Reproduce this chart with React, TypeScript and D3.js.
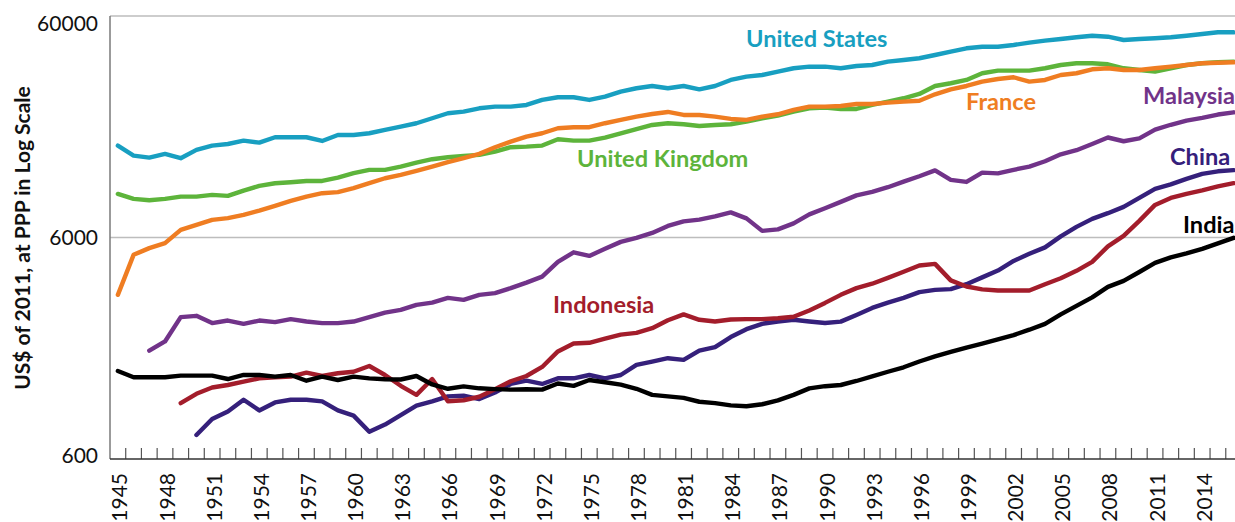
import React from "react";
import * as d3 from "d3";

// GDP per capita, US$ of 2011 at PPP, 1945-2016 (null = no data)
const years = d3.range(1945, 2017);

const unitedStates = [
  15600, 14060, 13760, 14310, 13680, 14920, 15600, 15860, 16420, 16080,
  17010, 17010, 17010, 16370, 17420, 17420, 17730, 18350, 18990, 19680,
  20730, 21830, 22200, 22990, 23380, 23380, 23800, 25070, 25780, 25780,
  25070, 25940, 27330, 28310, 28990, 28310, 28990, 28010, 28990, 30860,
  31940, 32500, 33640, 34850, 35430, 35430, 34850, 35690, 36060, 37330,
  37990, 38670, 40010, 41410, 42890, 43610, 43610, 44390, 45460, 46420,
  47240, 48090, 48890, 48390, 46760, 47240, 47590, 48090, 48890, 49760,
  50660, 50660,
];

const unitedKingdom = [
  9441, 8962, 8842, 8962, 9179, 9179, 9344, 9246, 9771, 10260,
  10550, 10660, 10800, 10800, 11180, 11710, 12120, 12120, 12540, 13070,
  13540, 13820, 14010, 14160, 14660, 15340, 15440, 15600, 16660, 16420,
  16420, 16940, 17730, 18490, 19330, 19680, 19480, 19130, 19330, 19480,
  20010, 20730, 21290, 22200, 22990, 23140, 22830, 22830, 23800, 24630,
  25510, 26680, 28990, 29820, 30860, 33090, 33990, 33990, 33990, 34850,
  36060, 36710, 36710, 36330, 34850, 34240, 33640, 34850, 36060, 36710,
  37090, 37330,
];

const france = [
  3306, 5011, 5372, 5657, 6493, 6841, 7206, 7335, 7590, 7936,
  8334, 8778, 9179, 9511, 9611, 10020, 10550, 11110, 11500, 12000,
  12540, 13120, 13680, 14310, 15340, 16250, 17120, 17730, 18680, 18880,
  18880, 19680, 20370, 21080, 21670, 22130, 21450, 21450, 21080, 20580,
  20370, 21080, 21600, 22590, 23380, 23380, 23550, 24040, 24040, 24370,
  24630, 24880, 26590, 28010, 28990, 30320, 31180, 31740, 30320, 30860,
  32500, 33090, 34490, 34850, 34240, 34240, 34850, 35430, 36060, 36710,
  36930, 37090,
];

const malaysia = [
  null, null, 1851, 2036, 2622, 2658, 2464, 2531, 2446, 2531,
  2490, 2568, 2505, 2464, 2464, 2505, 2622, 2748, 2826, 2978,
  3050, 3203, 3137, 3306, 3365, 3544, 3755, 3997, 4657, 5143,
  4956, 5333, 5733, 5976, 6293, 6768, 7094, 7228, 7474, 7790,
  7320, 6426, 6526, 6949, 7630, 8137, 8688, 9296, 9640, 10120,
  10730, 11340, 12050, 10920, 10690, 11780, 11680, 12130, 12540, 13260,
  14240, 14870, 15860, 16970, 16320, 16800, 18410, 19370, 20220, 20790,
  21540, 22040,
];

const china = [
  null, null, null, null, null, 770, 910, 984, 1111, 994,
  1080, 1111, 1111, 1092, 994, 942, 797, 858, 946, 1044,
  1092, 1150, 1158, 1119, 1198, 1309, 1354, 1309, 1388, 1388,
  1437, 1388, 1437, 1596, 1651, 1711, 1681, 1851, 1918, 2131,
  2313, 2446, 2505, 2550, 2505, 2467, 2503, 2683, 2885, 3047,
  3203, 3400, 3482, 3508, 3693, 3964, 4257, 4705, 5063, 5416,
  6071, 6698, 7281, 7726, 8248, 9056, 9945, 10420, 11030, 11620,
  11940, 12090,
];

const indonesia = [
  null, null, null, null, 1073, 1182, 1262, 1295, 1340, 1388,
  1403, 1412, 1472, 1422, 1463, 1487, 1578, 1437, 1284, 1169,
  1378, 1094, 1105, 1146, 1238, 1346, 1422, 1562, 1836, 1994,
  2008, 2098, 2187, 2226, 2338, 2537, 2697, 2550, 2505, 2557,
  2568, 2568, 2593, 2631, 2811, 3040, 3306, 3544, 3712, 3944,
  4200, 4485, 4561, 3842, 3604, 3500, 3457, 3457, 3457, 3693,
  3927, 4244, 4657, 5473, 6102, 7132, 8420, 9056, 9441, 9791,
  10210, 10550,
];

const india = [
  1498, 1403, 1403, 1403, 1427, 1427, 1427, 1378, 1437, 1437,
  1412, 1437, 1354, 1412, 1364, 1412, 1388, 1374, 1371, 1422,
  1302, 1245, 1277, 1251, 1241, 1234, 1238, 1234, 1315, 1284,
  1364, 1332, 1300, 1245, 1169, 1150, 1132, 1088, 1073, 1048,
  1038, 1060, 1104, 1169, 1250, 1279, 1295, 1350, 1415, 1486,
  1557, 1653, 1743, 1827, 1912, 1992, 2083, 2176, 2301, 2446,
  2697, 2946, 3219, 3593, 3822, 4191, 4608, 4879, 5089, 5333,
  5644, 5976,
];

const yTicks = [600, 6000, 60000];
const xTickYears = d3.range(1945, 2015, 3);

const series = [
  { name: "United States", values: unitedStates, color: "#189fc1", lx: 746, ly: 46.7 },
  { name: "United Kingdom", values: unitedKingdom, color: "#5db43b", lx: 577, ly: 166.7 },
  { name: "France", values: france, color: "#ef7d22", lx: 966, ly: 110 },
  { name: "Malaysia", values: malaysia, color: "#713389", lx: 1143, ly: 104.3 },
  { name: "China", values: china, color: "#35207b", lx: 1170, ly: 165 },
  { name: "Indonesia", values: indonesia, color: "#a31d2b", lx: 553, ly: 312.7 },
  { name: "India", values: india, color: "#000000", lx: 1183, ly: 232.7 },
];

const W = 1235;
const H = 522;
const margin = { top: 16, left: 110, bottom: 459 };
const font = "Lato, 'Open Sans', sans-serif";

export default function App() {
  const x = d3
    .scaleBand<number>()
    .domain(years)
    .range([margin.left, margin.left + 15.715 * years.length]);
  const bw = x.bandwidth();
  const cx = (yr: number) => (x(yr) as number) + bw / 2;

  const y = d3.scaleLog().domain([600, 60000]).range([margin.bottom, margin.top]);

  const line = d3
    .line<number | null>()
    .defined((d) => d != null)
    .x((_, i) => cx(years[i]))
    .y((d) => y(d as number));

  return (
    <svg
      width={W}
      height={H}
      style={{ position: "absolute", left: 0, top: 0, display: "block", background: "#fff" }}
      fontFamily={font}
    >
      {/* gridlines */}
      {yTicks.slice(1).map((t) => (
        <line key={t} x1={margin.left} x2={W} y1={y(t)} y2={y(t)} stroke="#bdbdbd" strokeWidth={1.5} />
      ))}

      {/* y axis */}
      <line x1={margin.left} x2={margin.left} y1={margin.top} y2={margin.bottom} stroke="#7a7a7a" strokeWidth={1.5} />
      {yTicks.map((t) => (
        <text
          key={t}
          x={98}
          y={t === 60000 ? y(t) + 7 : t === 600 ? y(t) - 4 : y(t)}
          dy="0.36em"
          textAnchor="end"
          fontSize={21}
          fill="#111"
        >
          {t}
        </text>
      ))}
      <text
        transform={`translate(30,238) rotate(-90)`}
        textAnchor="middle"
        fontSize={21}
        fontWeight="bold"
        fill="#111"
      >
        US$ of 2011, at PPP in Log Scale
      </text>

      {/* x axis */}
      {years.slice(1).map((yr) => (
        <line
          key={yr}
          x1={x(yr)}
          x2={x(yr)}
          y1={margin.bottom}
          y2={margin.bottom - 11}
          stroke="#555"
          strokeWidth={1.2}
        />
      ))}
      <line x1={margin.left} x2={W} y1={margin.bottom} y2={margin.bottom} stroke="#333" strokeWidth={1.5} />
      {xTickYears.map((yr) => (
        <text
          key={yr}
          transform={`translate(${cx(yr) + 2},473) rotate(-90)`}
          dy="0.36em"
          textAnchor="end"
          fontSize={21}
          fill="#111"
        >
          {yr}
        </text>
      ))}

      {/* lines */}
      {series.map((s) => (
        <path
          key={s.name}
          d={line(s.values) || ""}
          fill="none"
          stroke={s.color}
          strokeWidth={4.4}
          strokeLinejoin="round"
          strokeLinecap="round"
        />
      ))}

      {/* labels */}
      {series.map((s) => (
        <text key={s.name} x={s.lx} y={s.ly} fontSize={23.6} fontWeight="bold" fill={s.color}>
          {s.name}
        </text>
      ))}
    </svg>
  );
}
